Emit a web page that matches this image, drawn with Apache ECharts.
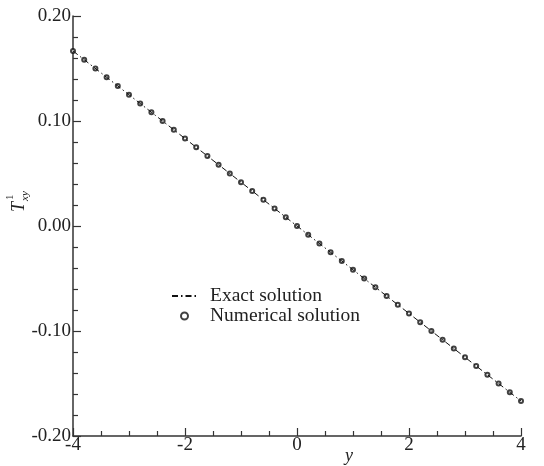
<!doctype html>
<html>
<head>
<meta charset="UTF-8">
<title>Txy</title>
<script src="https://cdn.jsdelivr.net/npm/echarts@6/dist/echarts.min.js"></script>
<style>
  html, body { margin: 0; padding: 0; background: #fff; }
  #container { width: 544px; height: 466px; }
</style>
</head>
<body>
<div id="container"></div>
<script type="text/javascript">
    // exact solution (straight line)
    var exactY = [-4, -3, -2, -1, 0, 1, 2, 3, 4];
    var exactT = [0.1667, 0.125, 0.0833, 0.0417, 0, -0.0417, -0.0833, -0.125, -0.1667];

    // numerical solution, every 0.2
    var numY = [-4.0, -3.8, -3.6, -3.4, -3.2, -3.0, -2.8, -2.6, -2.4, -2.2,
                -2.0, -1.8, -1.6, -1.4, -1.2, -1.0, -0.8, -0.6, -0.4, -0.2,
                0.0, 0.2, 0.4, 0.6, 0.8, 1.0, 1.2, 1.4, 1.6, 1.8,
                2.0, 2.2, 2.4, 2.6, 2.8, 3.0, 3.2, 3.4, 3.6, 3.8, 4.0];
    var numT = [0.1667, 0.1583, 0.150, 0.1417, 0.1333, 0.125, 0.1167, 0.1083, 0.100, 0.0917,
                0.0833, 0.075, 0.0667, 0.0583, 0.050, 0.0417, 0.0333, 0.025, 0.0167, 0.0083,
                0.0, -0.0083, -0.0167, -0.025, -0.0333, -0.0417, -0.050, -0.0583, -0.0667, -0.075,
                -0.0833, -0.0917, -0.100, -0.1083, -0.1167, -0.125, -0.1333, -0.1417, -0.150, -0.1583, -0.1667];

    var font = 'Liberation Serif';
    var ink = '#222';

    function pairs(xs, ys) {
        var out = [];
        for (var i = 0; i < xs.length; i++) out.push([xs[i], ys[i]]);
        return out;
    }

    var myChart = echarts.init(document.getElementById('container'), null, {renderer: 'canvas'});
    var option = {
        animation: false,
        backgroundColor: '#fff',
        grid: {left: 73, right: 23, top: 16, bottom: 30, outerBoundsMode: 'none', containLabel: false},
        legend: {
            orient: 'vertical',
            left: 166,
            top: 281,
            itemWidth: 25,
            itemHeight: 7,
            itemGap: 0,
            textStyle: {fontFamily: font, fontSize: 19.5, lineHeight: 19, color: ink, padding: [0, 0, 0, 8]},
            data: [
                {name: 'Exact solution', itemStyle: {opacity: 0}},
                {name: 'Numerical solution', icon: 'emptyCircle'}
            ]
        },
        xAxis: {
            type: 'value',
            min: -4, max: 4, interval: 2,
            name: 'y',
            nameLocation: 'middle',
            nameGap: 11,
            nameMoveOverlap: false,
            nameTextStyle: {fontFamily: font, fontStyle: 'italic', fontSize: 18, color: ink, padding: [0, 0, 0, 104]},
            axisLine: {onZero: false, lineStyle: {color: '#333', width: 1.5}},
            axisTick: {inside: true, length: 8, lineStyle: {color: '#333', width: 1.2}},
            minorTick: {show: true, splitNumber: 4, length: 5, lineStyle: {color: '#333', width: 1.2}},
            axisLabel: {fontFamily: font, fontSize: 19, color: ink, margin: 0},
            splitLine: {show: false}
        },
        yAxis: {
            type: 'value',
            min: -0.2, max: 0.2, interval: 0.1,
            axisLine: {onZero: false, lineStyle: {color: '#333', width: 1.5}},
            axisTick: {inside: true, length: 8, lineStyle: {color: '#333', width: 1.2}},
            minorTick: {show: true, splitNumber: 5, length: 5, lineStyle: {color: '#333', width: 1.2}},
            axisLabel: {
                fontFamily: font, fontSize: 19, color: ink, margin: 2,
                formatter: function (v) { return v.toFixed(2); }
            },
            splitLine: {show: false}
        },
        graphic: [{
            type: 'group',
            x: 19, y: 212,
            rotation: Math.PI / 2,
            children: [
                {type: 'text', x: 0, y: 0, style: {text: 'T', fontFamily: font, fontStyle: 'italic', fontSize: 18, fill: ink, textVerticalAlign: 'middle'}},
                {type: 'text', x: 12, y: -9, style: {text: '1', fontFamily: font, fontSize: 11, fill: ink, textVerticalAlign: 'middle'}},
                {type: 'text', x: 11, y: 6, style: {text: 'xy', fontFamily: font, fontStyle: 'italic', fontSize: 11, fill: ink, textVerticalAlign: 'middle'}}
            ]
        }],
        series: [{
            name: 'Exact solution',
            type: 'line',
            data: pairs(exactY, exactT),
            showSymbol: false,
            symbol: 'none',
            color: '#111',
            lineStyle: {color: '#111', width: 1, type: [6, 3, 1.5, 3]}
        }, {
            name: 'Numerical solution',
            type: 'scatter',
            data: pairs(numY, numT),
            symbol: 'emptyCircle',
            symbolSize: 4,
            color: '#111',
            itemStyle: {color: '#111', borderWidth: 1.6}
        }]
    };
    myChart.setOption(option);
</script>
</body>
</html>
